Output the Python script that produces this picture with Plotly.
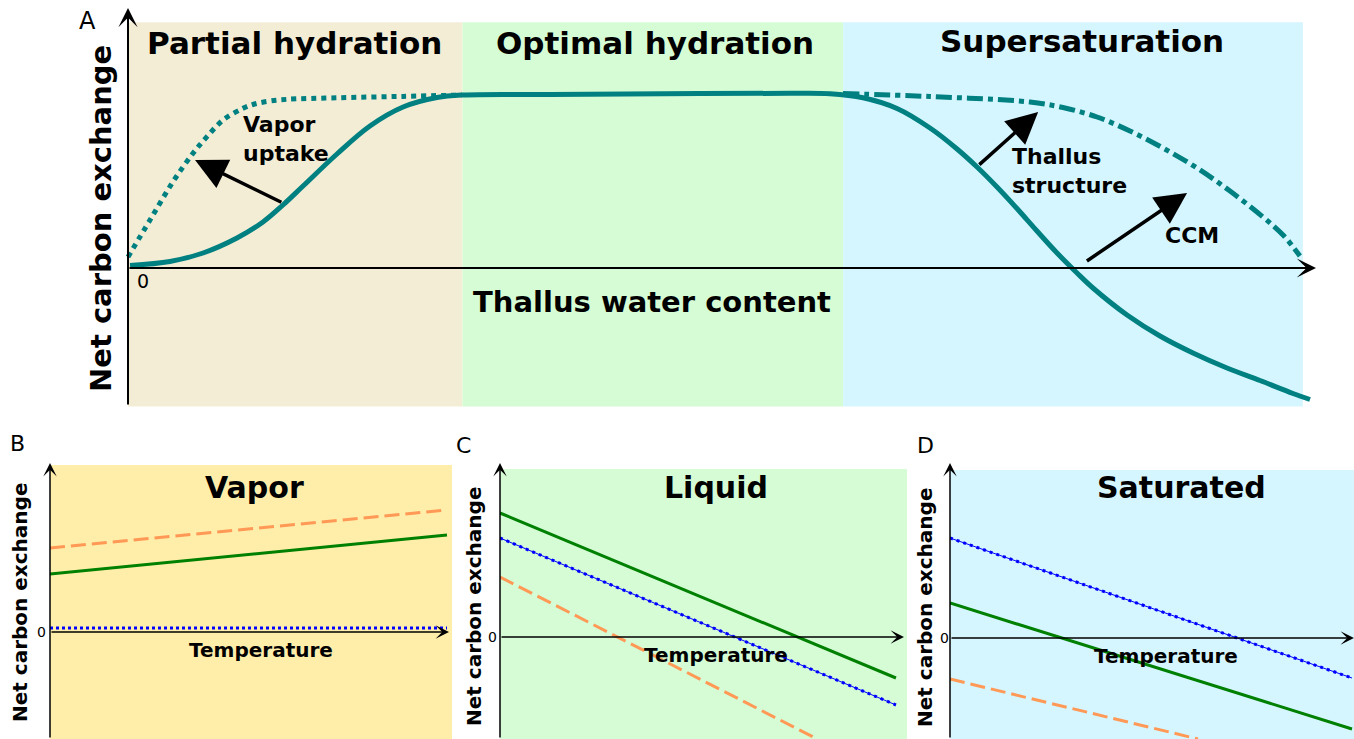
import plotly.graph_objects as go

W, H = 1354, 739
FONT = "DejaVu Sans"

# ---------------- Panel A data (relative units) ----------------
regime_names = ["Partial hydration", "Optimal hydration", "Supersaturation"]
regime_edges = [0.0, 0.283, 0.605, 0.994]
band_bottom, band_top = -0.80, 1.42

# baseline response (solid)
water_base = [0.0017, 0.0355, 0.0635, 0.0922, 0.1142, 0.1311, 0.1481, 0.1768, 0.2047,
              0.2327, 0.2614, 0.2834, 0.357, 0.484, 0.560, 0.5939, 0.6218, 0.6506,
              0.6785, 0.7014, 0.7183, 0.7352, 0.7521, 0.7690, 0.7860, 0.8029, 0.8164,
              0.8452, 0.8731, 0.9010, 0.9298, 0.9577, 0.9856, 1.000]
nce_base = [0.0145, 0.0376, 0.0867, 0.1734, 0.2659, 0.3642, 0.4740, 0.6590, 0.8208,
            0.9306, 0.9855, 1.000, 1.003, 1.008, 1.010, 1.0075, 0.9838, 0.9220,
            0.8092, 0.6879, 0.5838, 0.4682, 0.3439, 0.2139, 0.0867, -0.0289, -0.1156,
            -0.2717, -0.3931, -0.4913, -0.5780, -0.6503, -0.7254, -0.7601]

# vapor-uptake response (dotted)
water_vapor = [0.000, 0.0186, 0.0381, 0.055, 0.0668, 0.0804, 0.0973, 0.107, 0.120,
               0.1345, 0.1768, 0.2327, 0.2826]
nce_vapor = [0.064, 0.277, 0.499, 0.663, 0.759, 0.855, 0.923, 0.948, 0.965,
             0.975, 0.984, 0.992, 1.000]

# thallus-structure response (dash-dot)
water_struct = [0.6049, 0.6785, 0.7631, 0.7910, 0.8198, 0.8477, 0.8756, 0.9044, 0.9323,
                0.9602, 0.9772, 0.9915]
nce_struct = [1.0087, 0.9913, 0.9595, 0.9277, 0.8728, 0.7919, 0.6936, 0.5780, 0.4451,
              0.2948, 0.1908, 0.0694]

# annotated shifts: (label, tail water, tail nce, head water, head nce)
shift_arrows = [
    ("Vapor<br>uptake", 0.131, 0.376, 0.0567, 0.624),
    ("Thallus<br>structure", 0.719, 0.590, 0.770, 0.902),
    ("CCM", 0.810, 0.035, 0.896, 0.434),
]

# ---------------- Panels B-D data (relative units) ----------------
panel_titles = ["Vapor", "Liquid", "Saturated"]
panel_letters = ["B", "C", "D"]

temp_B = [0.0, 1.0]
green_B = [0.58, 0.97]
orange_B = [0.84, 1.22]
blue_B = [0.04, 0.04]

temp_C = [0.0, 0.985]
green_C = [1.24, -0.41]
blue_C = [0.99, -0.68]
temp_C_orange = [0.0, 0.789]
orange_C = [0.60, -1.02]

temp_D = [0.0, 1.0]
blue_D = [1.00, -0.40]
green_D = [0.35, -0.91]
temp_D_orange = [0.0, 0.617]
orange_D = [-0.41, -1.01]

# ---------------- styling ----------------
TEAL = "#008080"
GREEN = "#008000"
ORANGE = "#FF9955"
BLUE = "#0000FF"
BEIGE = "#F3EDD6"
LGREEN = "#D5FCD5"
LBLUE = "#D5F6FF"
YELLOW = "#FFEEAA"


def xaxis_px(d0, d1, zero, unit):
    return dict(domain=[d0 / W, d1 / W], range=[(d0 - zero) / unit, (d1 - zero) / unit],
                visible=False, showgrid=False, zeroline=False, fixedrange=True)


def yaxis_px(top, bottom, zero, unit):
    return dict(domain=[1 - bottom / H, 1 - top / H],
                range=[(zero - bottom) / unit, (zero - top) / unit],
                visible=False, showgrid=False, zeroline=False, fixedrange=True)


def P(xp, yp):
    return xp / W, 1 - yp / H


fig = go.Figure()


def line(x, y, xa, ya, color, width, dash="solid"):
    fig.add_trace(go.Scatter(x=x, y=y, xaxis=xa, yaxis=ya, mode="lines",
                             line=dict(color=color, width=width, dash=dash, shape="spline",
                                       smoothing=1.0),
                             hoverinfo="skip", showlegend=False))


# Panel A curves
line(water_vapor, nce_vapor, "x", "y", TEAL, 5, "dot")
line(water_struct, nce_struct, "x", "y", TEAL, 5, "16px,5px,5px,5px")
line(water_base, nce_base, "x", "y", TEAL, 5)

# Panel B
line(temp_B, orange_B, "x2", "y2", ORANGE, 3, "15px,6px")
line(temp_B, green_B, "x2", "y2", GREEN, 3)
line(temp_B, blue_B, "x2", "y2", BLUE, 3, "3px,3px")

# Panel C
line(temp_C, green_C, "x3", "y3", GREEN, 3)
line(temp_C, blue_C, "x3", "y3", BLUE, 1)
line(temp_C, blue_C, "x3", "y3", BLUE, 3, "3px,4px")
line(temp_C_orange, orange_C, "x3", "y3", ORANGE, 3, "15px,6px")

# Panel D
line(temp_D, blue_D, "x4", "y4", BLUE, 1)
line(temp_D, blue_D, "x4", "y4", BLUE, 3, "3px,4px")
line(temp_D, green_D, "x4", "y4", GREEN, 3)
line(temp_D_orange, orange_D, "x4", "y4", ORANGE, 3, "15px,6px")

shapes = []
band_colors = [BEIGE, LGREEN, LBLUE]
for i in range(3):
    shapes.append(dict(type="rect", xref="x", yref="y", x0=regime_edges[i], x1=regime_edges[i + 1],
                       y0=band_bottom, y1=band_top, fillcolor=band_colors[i],
                       line=dict(width=0), layer="below"))

zero_px = {"2": 632, "3": 637, "4": 638}
bg = {"2": (YELLOW, 465), "3": (LGREEN, 469), "4": (LBLUE, 470)}
for k in ["2", "3", "4"]:
    col, top = bg[k]
    shapes.append(dict(type="rect", xref="x" + k + " domain", yref="y" + k,
                       x0=0, x1=1, y0=-1.2, y1=(zero_px[k] - top) / 100.0,
                       fillcolor=col, line=dict(width=0), layer="below"))

layout = dict(
    width=W, height=H, margin=dict(l=0, r=0, t=0, b=0),
    paper_bgcolor="white", plot_bgcolor="rgba(0,0,0,0)",
    font=dict(family=FONT, color="black"),
    xaxis=xaxis_px(110, 1330, 128, 1182), yaxis=yaxis_px(5, 415, 268, 173),
    xaxis2=xaxis_px(50, 452, 50, 397), yaxis2=yaxis_px(455, 739, 632, 100),
    xaxis3=xaxis_px(500, 907, 500, 402), yaxis3=yaxis_px(455, 739, 637, 100),
    xaxis4=xaxis_px(950, 1354, 950, 402), yaxis4=yaxis_px(455, 739, 638, 100),
    shapes=shapes,
)
layout["yaxis"]["anchor"] = "x"
layout["xaxis"]["anchor"] = "y"
for k in ["2", "3", "4"]:
    layout["xaxis" + k]["anchor"] = "y" + k
    layout["yaxis" + k]["anchor"] = "x" + k
fig.update_layout(**layout)

ann = []


def arrow(xa, ya, x0, y0, x1, y1, width, size, head):
    ann.append(dict(xref=xa, yref=ya, axref=xa, ayref=ya, x=x1, y=y1, ax=x0, ay=y0,
                    text="", showarrow=True, arrowhead=head, arrowwidth=width,
                    arrowsize=size, arrowcolor="black", standoff=0, startstandoff=0))


def text(t, xp, yp, size, bold=True, angle=0, xanchor="center", align="center"):
    x, y = P(xp, yp)
    ann.append(dict(xref="paper", yref="paper", x=x, y=y, text=(f"<b>{t}</b>" if bold else t),
                    showarrow=False, xanchor=xanchor, yanchor="middle", align=align,
                    textangle=angle, font=dict(family=FONT, size=size, color="black")))


# Panel A axes
arrow("x", "y", 0, (268 - 406) / 173, 0, (268 - 8) / 173, 2, 1.6, 3)
arrow("x", "y", 0, 0, (1316 - 128) / 1182, 0, 2, 1.6, 3)
# Panel A shift arrows
for lab, x0, y0, x1, y1 in shift_arrows:
    arrow("x", "y", x0, y0, x1, y1, 3.5, 1.8, 2)

# Bottom axes
for k, (xl, zp) in zip(["2", "3", "4"], [(397, 632), (402, 637), (402, 638)]):
    arrow("x" + k, "y" + k, 0, (zp - 739) / 100, 0, (zp - 463) / 100, 1.5, 1.5, 3)
    arrow("x" + k, "y" + k, 0, 0, 1.0 + (2 / xl), 0, 1.5, 1.5, 3)

# Panel A text
text("A", 88, 21, 24, bold=False)
text(regime_names[0], 294, 43, 31)
text(regime_names[1], 655, 43, 31)
text(regime_names[2], 1082, 41, 31)
text(shift_arrows[0][0], 241, 139, 22, xanchor="left", align="left")
text(shift_arrows[1][0], 1010, 171, 22, xanchor="left", align="left")
text(shift_arrows[2][0], 1163, 235, 22, xanchor="left", align="left")
text("0", 143, 281, 19, bold=False)
text("Thallus water content", 652, 302, 29)
text("Net carbon exchange", 101, 219, 29, angle=-90)

# Bottom panel text
centers = [255, 716, 1181]
temp_x = [261, 716, 1166]
temp_y = [650, 655, 656]
ytitle_x = [20, 474, 925]
ytitle_y = [603, 607, 608]
zero_lab = [(41, 632), (492, 637), (944, 638)]
letters_xy = [(17, 443), (463, 445), (925, 445)]
for i in range(3):
    text(panel_titles[i], centers[i], 487, 30)
    text("Temperature", temp_x[i], temp_y[i], 20)
    text("Net carbon exchange", ytitle_x[i], ytitle_y[i], 20, angle=-90)
    text("0", zero_lab[i][0], zero_lab[i][1], 14, bold=False)
    text(panel_letters[i], letters_xy[i][0], letters_xy[i][1], 22, bold=False)

fig.update_layout(annotations=ann)
fig.write_html("out.html", config={"displayModeBar": False},
               post_script="document.body.style.margin='0px';document.body.style.overflow='hidden';")
